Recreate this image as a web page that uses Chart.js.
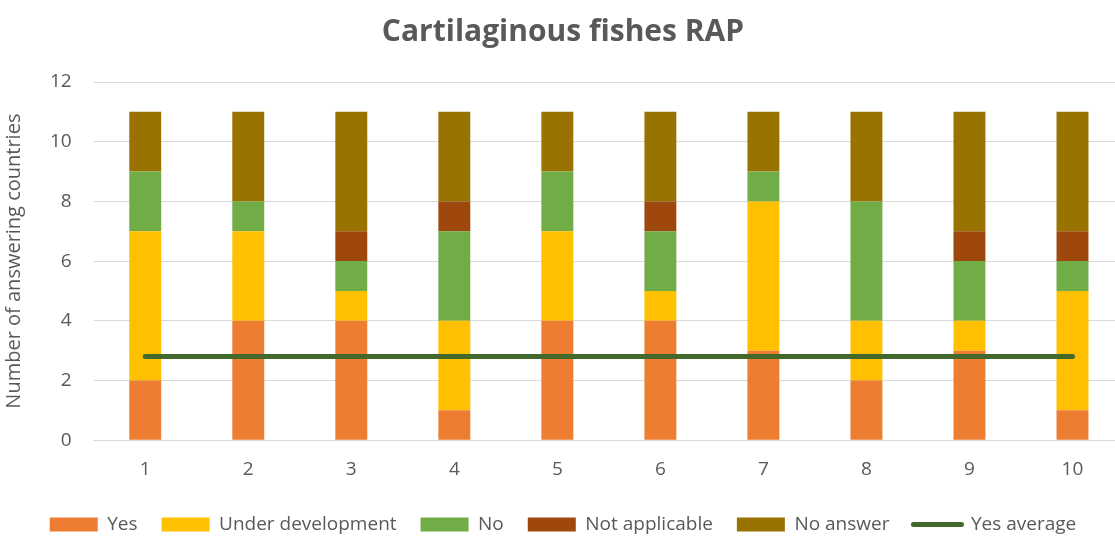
<!DOCTYPE html>
<html>
<head>
<meta charset="utf-8">
<script src="https://cdn.jsdelivr.net/npm/chart.js@4"></script>
<style>
  html, body { margin: 0; padding: 0; background: #fff; overflow: hidden; }
  #wrap { width: 1124px; height: 536px; }
</style>
</head>
<body>
<div id="wrap"><canvas id="myChart"></canvas></div>
<script>
// chart data
const categories = ["1", "2", "3", "4", "5", "6", "7", "8", "9", "10"];
const yes = [2, 4, 4, 1, 4, 4, 3, 2, 3, 1];
const underDevelopment = [5, 3, 1, 3, 3, 1, 5, 2, 1, 4];
const no = [2, 1, 1, 3, 2, 2, 1, 4, 2, 1];
const notApplicable = [0, 0, 1, 1, 0, 1, 0, 0, 1, 1];
const noAnswer = [2, 3, 4, 3, 2, 3, 2, 3, 4, 4];
const yesAverage = [2.8, 2.8, 2.8, 2.8, 2.8, 2.8, 2.8, 2.8, 2.8, 2.8];
const yTicks = [0, 2, 4, 6, 8, 10, 12];

const fontFamily = "'Open Sans', sans-serif";
const textColor = "#595959";

function barSet(label, data, color) {
  return {
    type: "bar",
    label: label,
    data: data,
    backgroundColor: color,
    borderWidth: 0,
    barPercentage: 0.31,
    categoryPercentage: 1,
    stack: "s",
    order: 2
  };
}

new Chart(document.getElementById("myChart"), {
  data: {
    labels: categories,
    datasets: [
      barSet("Yes", yes, "#ED7D31"),
      barSet("Under development", underDevelopment, "#FFC000"),
      barSet("No", no, "#70AD47"),
      barSet("Not applicable", notApplicable, "#9E480E"),
      barSet("No answer", noAnswer, "#997300"),
      {
        type: "line",
        label: "Yes average",
        data: yesAverage,
        borderColor: "#43682B",
        backgroundColor: "#43682B",
        borderWidth: 5,
        borderCapStyle: "round",
        pointRadius: 0,
        fill: false,
        order: 1
      }
    ]
  },
  options: {
    responsive: true,
    maintainAspectRatio: false,
    animation: false,
    layout: { padding: { left: 2, right: 0, top: 0, bottom: -8 } },
    plugins: {
      title: {
        display: true,
        text: "Cartilaginous fishes RAP",
        color: textColor,
        font: { family: fontFamily, size: 30, weight: "bold" },
        padding: { top: 14, bottom: 32 }
      },
      legend: {
        position: "bottom",
        labels: {
          color: textColor,
          font: { family: fontFamily, size: 19 },
          usePointStyle: true,
          pointStyleWidth: 48,
          boxHeight: 14,
          padding: 24,
          sort: (a, b) => a.datasetIndex - b.datasetIndex,
          generateLabels(chart) {
            const items = Chart.defaults.plugins.legend.labels.generateLabels(chart);
            items.forEach((it) => {
              const ds = chart.data.datasets[it.datasetIndex];
              if (ds.type === "line") {
                it.pointStyle = "line";
                it.lineWidth = 5;
                it.lineCap = "round";
                it.strokeStyle = ds.borderColor;
              } else {
                it.pointStyle = "rect";
                it.lineWidth = 0;
                it.strokeStyle = ds.backgroundColor;
              }
            });
            return items;
          }
        }
      },
      tooltip: { enabled: false }
    },
    scales: {
      x: {
        stacked: true,
        grid: { display: false },
        border: { color: "#d9d9d9" },
        ticks: { color: textColor, font: { family: fontFamily, size: 19 }, padding: 10 }
      },
      y: {
        stacked: true,
        min: 0,
        max: 12,
        afterBuildTicks(axis) { axis.ticks = yTicks.map((v) => ({ value: v })); },
        grid: { color: "#d9d9d9", lineWidth: 1, drawTicks: false },
        border: { display: false },
        ticks: { color: textColor, font: { family: fontFamily, size: 19 }, padding: 22 },
        title: {
          display: true,
          text: "Number of answering countries",
          color: textColor,
          font: { family: fontFamily, size: 20 },
          padding: { top: 0, bottom: 2 }
        }
      }
    }
  }
});
</script>
</body>
</html>
